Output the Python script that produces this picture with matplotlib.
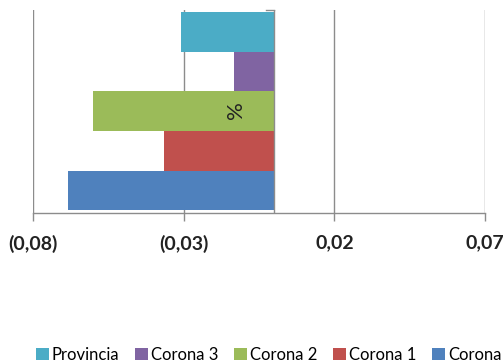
import matplotlib
matplotlib.use("Agg")
import matplotlib.pyplot as plt
from matplotlib.patches import Patch
from matplotlib.ticker import FuncFormatter

series = ["Corona", "Corona 1", "Corona 2", "Corona 3", "Provincia"]
values = [-0.0683, -0.0366, -0.0601, -0.0134, -0.0309]
colors = ["#4F81BD", "#C0504D", "#9BBB59", "#8064A2", "#4BACC6"]
xticks = [-0.08, -0.03, 0.02, 0.07]

plt.rcParams['font.family'] = ['Lato', 'DejaVu Sans']

fig = plt.figure(figsize=(5.04, 3.63), dpi=100)
W, H = 504, 363
ax = fig.add_axes([33 / W, 1 - 212.5 / H, (485 - 33) / W, (212.5 - 10) / H])

pos = list(range(len(series)))
ax.barh(pos, values, height=1.0, color=colors, edgecolor='none', zorder=3)

ax.set_xlim(-0.08, 0.07)
ax.set_ylim(-0.56, 4.56)
ax.set_xticks(xticks)
def fmt(v, p):
    s = f"{abs(v):.2f}".replace('.', ',')
    return f"({s})" if v < -1e-9 else s
ax.xaxis.set_major_formatter(FuncFormatter(fmt))
ax.grid(axis='x', color='#8c8c8c', linewidth=1.0, zorder=0)
ax.set_yticks([])
for s in ['top', 'right', 'left']:
    ax.spines[s].set_visible(False)
ax.spines['bottom'].set_color('#8c8c8c')
ax.spines['bottom'].set_linewidth(1.0)
ax.tick_params(axis='x', length=6, width=1.0, color='#8c8c8c', pad=10,
               labelsize=14, labelcolor='#222222')
for lab in ax.get_xticklabels():
    lab.set_fontweight('bold')
ax.axvline(0, color='#8c8c8c', linewidth=1.0, zorder=4)
ax.plot([-0.0028, 0], [4.56, 4.56], color='#8c8c8c', linewidth=1.0, clip_on=False, zorder=4)

fig.text(236 / W, 1 - 110 / H, "%", rotation=90, ha='center', va='center',
         fontsize=16, color='#222222')

handles = [Patch(facecolor=c, edgecolor='none') for c in colors[::-1]]
fig.legend(handles, series[::-1], loc='center left', bbox_to_anchor=(36 / W, 1 - 355 / H),
           ncol=5, frameon=False, fontsize=12, handlelength=0.75, handleheight=0.75,
           handletextpad=0.2, columnspacing=0.95, borderaxespad=0, borderpad=0)

fig.savefig("out.png", dpi=100)
